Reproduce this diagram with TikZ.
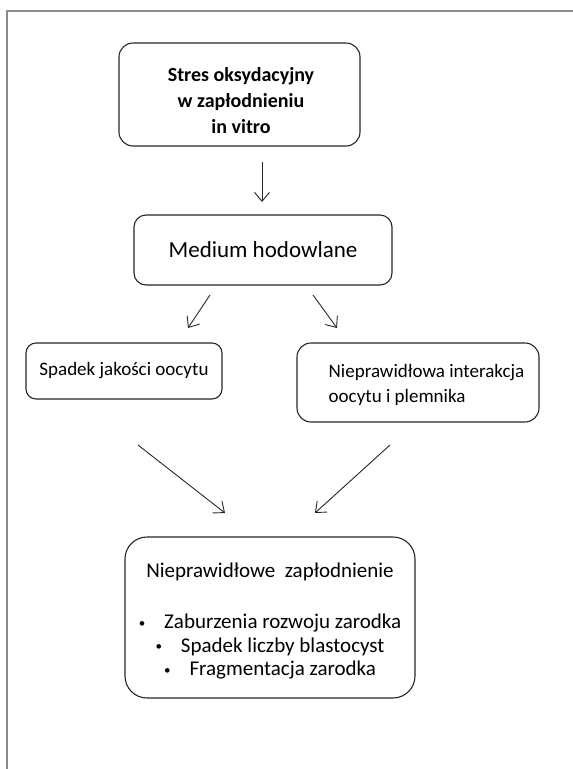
\documentclass[tikz,border=0pt]{standalone}
\usepackage{fontspec}
\setmainfont{Carlito}
\usetikzlibrary{arrows.meta}
\newcommand{\blt}{\raisebox{1.5pt}{\fontsize{13}{13}\selectfont\textbullet}\hspace{19pt}}
\begin{document}
\begin{tikzpicture}[x=1pt,y=-1pt,
        box/.style={draw=black!85,line width=1.1pt,rounded corners=#1,inner sep=0pt},
        box/.default=12pt,
        arr/.style={-{Straight Barb[length=9pt,width=15pt]},line width=.9pt,black!85}]
        \useasboundingbox (0,0) rectangle (573,769);
        \draw[black!45,line width=1.5pt] (7,769) -- (7,11) -- (573,11);
        \node[box=14pt,minimum width=241pt,minimum height=103pt] (stres) at (239.5,94.5) {};
        \node[align=center,font=\fontsize{20}{26}\selectfont\bfseries] (stresT) at (241,101) {Stres oksydacyjny\\w zapłodnieniu\\in vitro};
        \node[box,minimum width=258pt,minimum height=70pt,font=\fontsize{23}{26}\selectfont] (medium) at (263,250) {Medium hodowlane};
        \node[box=10pt,minimum width=196pt,minimum height=56pt,font=\fontsize{19}{22}\selectfont] (spadek) at (124,371) {Spadek jakości oocytu};
        \node[box=14pt,minimum width=242pt,minimum height=79pt] (interakcja) at (418,382.5) {};
        \node[align=left,font=\fontsize{19}{25}\selectfont] (interakcjaT) at (426.5,384.5) {Nieprawidłowa interakcja\\oocytu i plemnika};
        \node[box=22pt,minimum width=290pt,minimum height=161pt] (zaplodnienie) at (270,617.5) {};
        \node[align=center,font=\fontsize{21}{23.5}\selectfont] (zaplodnienieT) at (270,621) {Nieprawidłowe\ \ zapłodnienie\\[28pt]
                \blt Zaburzenia rozwoju zarodka\\
                \blt Spadek liczby blastocyst\\
                \blt Fragmentacja zarodka};
        \coordinate (a1s) at (262,162);
        \coordinate (a1e) at (262,202);
        \coordinate (a2s) at (210,295);
        \coordinate (a2e) at (188,328);
        \coordinate (a3s) at (313,295);
        \coordinate (a3e) at (337,328);
        \coordinate (a4s) at (138,445);
        \coordinate (a4e) at (225,513);
        \coordinate (a5s) at (390,445);
        \coordinate (a5e) at (315,513);
        \draw[arr] (a1s) -- (a1e);
        \draw[arr] (a2s) -- (a2e);
        \draw[arr] (a3s) -- (a3e);
        \draw[arr] (a4s) -- (a4e);
        \draw[arr] (a5s) -- (a5e);
\end{tikzpicture}
\end{document}
